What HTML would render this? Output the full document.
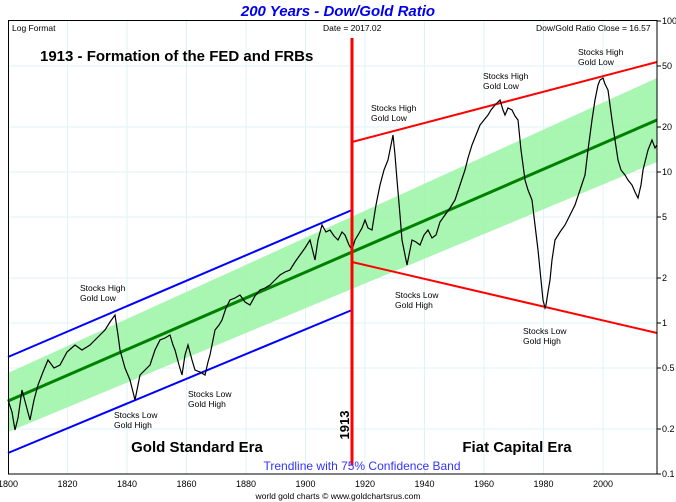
<!DOCTYPE html>
<html><head><meta charset="utf-8"><style>
body{margin:0;background:#fff;}
svg{display:block;font-family:"Liberation Sans",Arial,sans-serif;}
</style></head><body>
<svg width="676" height="502" viewBox="0 0 676 502" xmlns="http://www.w3.org/2000/svg">
<rect width="676" height="502" fill="#fff"/>
<text x="338" y="16" text-anchor="middle" font-size="15" font-weight="bold" font-style="italic" fill="#0000ee">200 Years - Dow/Gold Ratio</text>
<g stroke="#dff3f6" stroke-width="1">
<line x1="67.5" y1="21" x2="67.5" y2="474"/><line x1="127" y1="21" x2="127" y2="474"/><line x1="186.5" y1="21" x2="186.5" y2="474"/><line x1="246" y1="21" x2="246" y2="474"/><line x1="305.5" y1="21" x2="305.5" y2="474"/><line x1="365" y1="21" x2="365" y2="474"/><line x1="424.5" y1="21" x2="424.5" y2="474"/><line x1="484" y1="21" x2="484" y2="474"/><line x1="543.5" y1="21" x2="543.5" y2="474"/><line x1="603" y1="21" x2="603" y2="474"/>
<line x1="8" y1="66" x2="657" y2="66"/><line x1="8" y1="127" x2="657" y2="127"/><line x1="8" y1="172" x2="657" y2="172"/><line x1="8" y1="217" x2="657" y2="217"/><line x1="8" y1="278" x2="657" y2="278"/><line x1="8" y1="323" x2="657" y2="323"/><line x1="8" y1="368" x2="657" y2="368"/><line x1="8" y1="429" x2="657" y2="429"/>
</g>
<polygon points="8,373 657,78 657,162 8,432" fill="#9ef5a8" opacity="0.9"/>
<line x1="8" y1="401" x2="657" y2="120" stroke="#008000" stroke-width="3"/>
<line x1="8" y1="357" x2="352" y2="210" stroke="#0000ff" stroke-width="2"/>
<line x1="8" y1="453" x2="352" y2="310" stroke="#0000ff" stroke-width="2"/>
<line x1="352" y1="142" x2="657" y2="62" stroke="#ff0000" stroke-width="2"/>
<line x1="352" y1="262" x2="657" y2="333" stroke="#ff0000" stroke-width="2"/>
<polyline fill="none" stroke="#000" stroke-width="1.2" points="8,400 12,412 15,430 18,418 22,390 26,405 30,420 34,400 38,385 43,372 48,360 54,368 60,365 67,352 75,345 82,350 90,345 97,338 105,330 110,322 115,315 118,335 120,350 125,368 130,380 133,392 135,400 138,385 140,375 145,370 150,365 155,350 160,340 165,338 170,335 173,345 175,350 179,365 182,375 185,355 188,345 192,360 195,370 200,372 205,375 208,362 210,355 213,340 215,330 219,325 222,320 226,308 230,300 235,298 240,295 245,302 250,305 255,296 260,290 265,288 270,285 275,280 280,275 285,272 290,270 295,262 300,255 305,248 310,240 313,252 315,260 318,240 322,225 326,232 330,230 334,236 338,240 342,232 345,235 349,245 352,250 355,240 358,235 362,228 365,220 368,228 372,230 376,205 380,185 384,170 388,160 391,145 393,135 395,155 397,180 400,215 402,240 405,255 407,265 410,250 412,240 416,242 420,245 424,235 428,230 432,238 436,235 440,222 445,215 450,208 455,200 460,185 465,170 468,158 472,145 476,135 480,125 484,120 488,115 491,110 495,105 498,102 500,100 503,110 505,115 508,108 512,110 515,116 518,120 521,150 525,180 528,190 532,200 535,225 538,250 541,280 543,300 545,308 546,305 548,292 550,280 552,260 555,240 560,232 565,225 570,215 575,205 580,190 585,175 588,150 592,120 595,100 598,85 600,80 603,78 605,84 608,90 610,105 612,120 615,140 618,160 621,170 625,175 628,180 632,185 635,192 638,198 641,185 643,170 646,158 648,150 650,145 652,140 655,148 657,145"/>
<line x1="352" y1="38" x2="352" y2="465" stroke="#ff0000" stroke-width="3"/>
<rect x="8.5" y="20.5" width="648.5" height="453.5" fill="none" stroke="#000" stroke-width="1"/>
<g stroke="#000"><line x1="657" y1="21" x2="661" y2="21"/><line x1="657" y1="66" x2="661" y2="66"/><line x1="657" y1="127" x2="661" y2="127"/><line x1="657" y1="172" x2="661" y2="172"/><line x1="657" y1="217" x2="661" y2="217"/><line x1="657" y1="278" x2="661" y2="278"/><line x1="657" y1="323" x2="661" y2="323"/><line x1="657" y1="368" x2="661" y2="368"/><line x1="657" y1="429" x2="661" y2="429"/><line x1="657" y1="474" x2="661" y2="474"/></g>
<g font-size="9" fill="#000">
<text x="662" y="24">100</text><text x="662" y="69">50</text><text x="662" y="130">20</text><text x="662" y="175">10</text><text x="662" y="220">5</text><text x="662" y="281">2</text><text x="662" y="326">1</text><text x="662" y="371">0.5</text><text x="662" y="432">0.2</text><text x="662" y="477">0.1</text>
</g>
<g font-size="9" fill="#000" text-anchor="middle">
<text x="8" y="487">1800</text><text x="67.5" y="487">1820</text><text x="127" y="487">1840</text><text x="186.5" y="487">1860</text><text x="246" y="487">1880</text><text x="305.5" y="487">1900</text><text x="365" y="487">1920</text><text x="424.5" y="487">1940</text><text x="484" y="487">1960</text><text x="543.5" y="487">1980</text><text x="603" y="487">2000</text>
<text x="338" y="499" font-size="8.5">world gold charts © www.goldchartsrus.com</text>
</g>
<g font-size="8.5" fill="#000">
<text x="12" y="31">Log Format</text>
<text x="323" y="31">Date = 2017.02</text>
<text x="536" y="31">Dow/Gold Ratio Close = 16.57</text>
</g>
<text x="40" y="61" font-size="15" font-weight="bold">1913 - Formation of the FED and FRBs</text>
<g font-size="8.5" fill="#000">
<text x="80" y="291">Stocks High</text><text x="80" y="301">Gold Low</text>
<text x="114" y="418">Stocks Low</text><text x="114" y="428">Gold High</text>
<text x="188" y="397">Stocks Low</text><text x="188" y="407">Gold High</text>
<text x="371" y="111">Stocks High</text><text x="371" y="121">Gold Low</text>
<text x="483" y="79">Stocks High</text><text x="483" y="89">Gold Low</text>
<text x="578" y="55">Stocks High</text><text x="578" y="65">Gold Low</text>
<text x="395" y="298">Stocks Low</text><text x="395" y="308">Gold High</text>
<text x="523" y="334">Stocks Low</text><text x="523" y="344">Gold High</text>
</g>
<text x="0" y="0" transform="translate(349,425) rotate(-90)" font-size="13" font-weight="bold" text-anchor="middle">1913</text>
<text x="197" y="452" font-size="15" font-weight="bold" text-anchor="middle">Gold Standard Era</text>
<text x="517" y="452" font-size="15" font-weight="bold" text-anchor="middle">Fiat Capital Era</text>
<text x="362" y="470" font-size="12" fill="#3333ff" text-anchor="middle">Trendline with 75% Confidence Band</text>
</svg>
</body></html>
